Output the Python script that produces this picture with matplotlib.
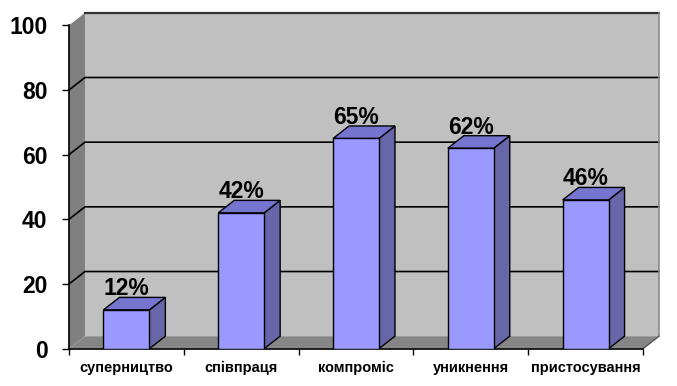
import matplotlib
matplotlib.use('Agg')
import matplotlib.pyplot as plt
import numpy as np
from matplotlib.patches import Polygon
from matplotlib.lines import Line2D
from matplotlib.transforms import IdentityTransform

categories = ['суперництво', 'співпраця', 'компроміс', 'уникнення', 'пристосування']
values = [12, 42, 65, 62, 46]
value_labels = ['12%', '42%', '65%', '62%', '46%']
yticks = [0, 20, 40, 60, 80, 100]

plt.rcParams['font.family'] = ['Liberation Sans', 'DejaVu Sans']

fig = plt.figure(figsize=(6.77, 3.86), dpi=100)
ax = fig.add_axes([69 / 677, 37.3 / 386, 574 / 677, 323.4 / 386])
n = len(categories)
x = np.arange(n)
x0, x1 = -0.5, n - 0.5
ax.set_xlim(x0, x1)
ax.set_ylim(0, 100)
ax.patch.set_visible(False)

DX, DY = 16, 12.5
W = 0.40


def P(xv, yv, d=0):
    p = ax.transData.transform((xv, yv))
    return (p[0] + d * DX, p[1] + d * DY)


def poly(pts, fc, ec='none', lw=0, z=1):
    ax.add_patch(Polygon(pts, closed=True, facecolor=fc, edgecolor=ec,
                         linewidth=lw, transform=IdentityTransform(),
                         clip_on=False, zorder=z))


def line(pts, color, lw=1, z=1.5):
    xs, ys = zip(*pts)
    ax.add_line(Line2D(xs, ys, color=color, linewidth=lw,
                       transform=IdentityTransform(), clip_on=False, zorder=z))


top = yticks[-1]
# walls
poly([P(x0, 0, 1), P(x1, 0, 1), P(x1, top, 1), P(x0, top, 1)], '#C0C0C0', z=0.5)
poly([P(x0, 0, 0), P(x0, 0, 1), P(x0, top, 1), P(x0, top, 0)], '#808080', z=0.6)
poly([P(x0, 0, 0), P(x1, 0, 0), P(x1, 0, 1), P(x0, 0, 1)], '#868686', z=0.6)
# gridlines
for v in yticks[1:-1]:
    line([P(x0, v, 0), P(x0, v, 1), P(x1, v, 1)], 'black', 1.2)
line([P(x0, top, 1), P(x1, top, 1)], '#333333', 1.6)
line([P(x1, 0, 1), P(x1, top, 1)], '#8a8a8a', 1.2)
line([P(x1, 0, 0), P(x1, 0, 1)], '#555555', 1.0)

# bars
for i, v in enumerate(values):
    l, r = i - W / 2, i + W / 2
    poly([P(r, 0, 0), P(r, 0, 1), P(r, v, 1), P(r, v, 0)], '#6666A8', 'black', 1.0, z=2.8)
    poly([P(l, v, 0), P(r, v, 0), P(r, v, 1), P(l, v, 1)], '#7575D0', 'black', 1.0, z=2.8)
ax.bar(x, values, width=W, color='#9999FF', edgecolor='black', linewidth=1.0, zorder=3)

for i, (v, lab) in enumerate(zip(values, value_labels)):
    ax.annotate(lab, xy=(i, v), xytext=(0, DY + 2), textcoords='offset pixels',
                ha='center', va='baseline', fontsize=16.5, fontweight='bold',
                annotation_clip=False, zorder=5)

# axes styling
for s in ['top', 'right']:
    ax.spines[s].set_visible(False)
for s in ['left', 'bottom']:
    ax.spines[s].set_color('black')
    ax.spines[s].set_linewidth(1.2)

ax.set_yticks(yticks)
ax.set_yticklabels([str(t) for t in yticks], fontsize=16.5, fontweight='bold')
ax.tick_params(axis='y', length=5, width=1, pad=10.5, direction='out')

ax.set_xticks(x)
ax.set_xticklabels(categories, fontsize=10.5, fontweight='bold')
ax.set_xticks(np.arange(n + 1) - 0.5, minor=True)
ax.tick_params(axis='x', which='major', length=0, pad=8.5)
ax.tick_params(axis='x', which='minor', length=4, width=1, direction='out')

fig.savefig('out.png', dpi=100, facecolor='white')
